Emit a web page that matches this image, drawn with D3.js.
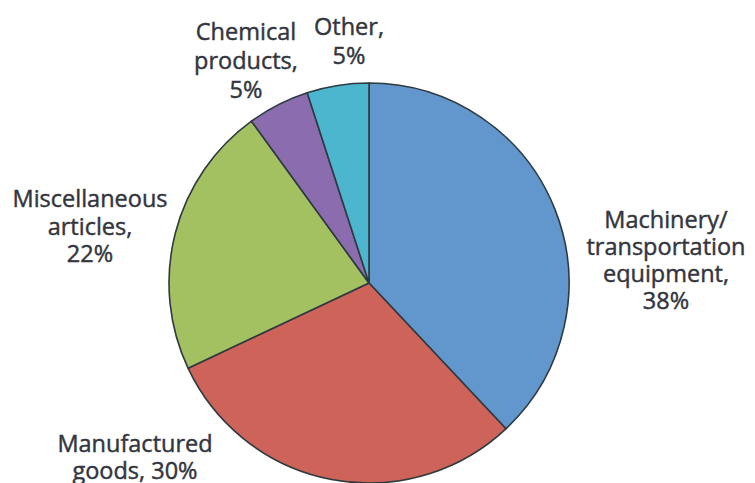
<!DOCTYPE html>
<html><head><meta charset="utf-8">
<script src="https://cdn.jsdelivr.net/npm/d3@7/dist/d3.min.js"></script>
<style>body{margin:0;background:#fff}</style>
</head><body>
<svg id="c" width="755" height="483"></svg>
<script>
const categories = ["Machinery/transportation equipment","Manufactured goods","Miscellaneous articles","Chemical products","Other"];
const values = [38, 30, 22, 5, 5];
const colors = ["#6197cd","#cd6359","#a4c162","#8b6cae","#4db6cf"];
const labelLines = [
  ["Machinery/","transportation","equipment,","38%"],
  ["Manufactured","goods, 30%"],
  ["Miscellaneous","articles,","22%"],
  ["Chemical","products,","5%"],
  ["Other,","5%"]
];
const svg = d3.select("#c");
const cx = 369, cy = 283, r = 200;
const pie = d3.pie().sort(null).value(d => d)(values);
const arc = d3.arc().innerRadius(0).outerRadius(r);
const g = svg.append("g").attr("transform", `translate(${cx},${cy})`);
g.selectAll("path").data(pie).join("path")
  .attr("d", arc)
  .attr("fill", (d,i) => colors[i])
  .attr("stroke", "#2e3a40")
  .attr("stroke-width", 1.6)
  .attr("stroke-linejoin", "round");
// label anchors (center x, first baseline, line spacing)
const labelPos = [[666,228,27],[135,452,27],[90,207,27.5],[246,40,29],[349,35,29]];
labelLines.forEach((lines,i) => {
  const t = svg.append("text")
    .attr("text-anchor","middle")
    .attr("font-family","'Open Sans', sans-serif")
    .attr("font-size", 23.5)
    .attr("fill","#33363e")
    .attr("stroke","#33363e")
    .attr("stroke-width",0.45);
  lines.forEach((s,k) => t.append("tspan").attr("x", labelPos[i][0]).attr("y", labelPos[i][1] + k*labelPos[i][2]).text(s));
});
</script>
</body></html>
